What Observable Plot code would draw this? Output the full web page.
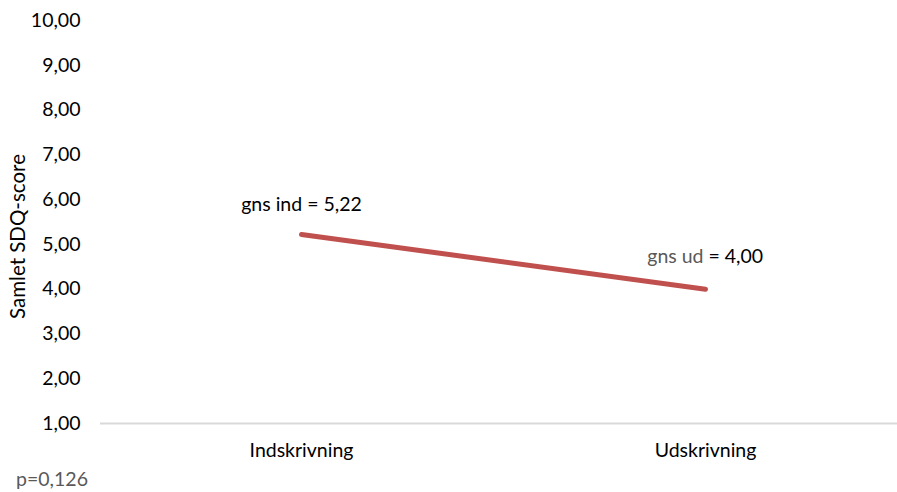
<!DOCTYPE html>
<html>
<head>
<meta charset="utf-8">
<script src="https://cdn.jsdelivr.net/npm/d3@7"></script>
<script src="https://cdn.jsdelivr.net/npm/@observablehq/plot@0.6"></script>
<style>
  html, body { margin: 0; padding: 0; background: #fff; }
  #chart svg { display: block; }
</style>
</head>
<body>
<div id="chart"></div>
<script>
const categories = ["Indskrivning", "Udskrivning"];
const values = [5.22, 4.00];
const labelPrefix = ["gns ind", "gns ud"];
const labelValue = ["= 5,22", "= 4,00"];
const yTicks = [1, 2, 3, 4, 5, 6, 7, 8, 9, 10];
const yTitle = "Samlet SDQ-score";
const pNote = "p=0,126";

const data = categories.map((c, i) => ({cat: c, v: values[i], pre: labelPrefix[i], val: labelValue[i]}));
const fmt = d => d.toFixed(2).replace(".", ",");
const FONT = "Lato, 'Open Sans', sans-serif";
const FS = 19.5;

const chart = Plot.plot({
  width: 897,
  height: 492,
  marginLeft: 100,
  marginRight: 0,
  marginTop: 20,
  marginBottom: 69,
  style: {fontFamily: FONT, fontSize: FS + "px", color: "#000", background: "#fff"},
  x: {type: "point", domain: categories, range: [301, 705], padding: 0, label: null},
  y: {domain: [1, 10], label: null},
  marks: [
    Plot.ruleY([1], {stroke: "#d9d9d9", strokeWidth: 2}),
    Plot.axisY({ticks: yTicks, tickFormat: fmt, tickSize: 0, tickPadding: 20, label: null, fontSize: FS}),
    Plot.axisX({tickSize: 0, tickPadding: 20, label: null, fontSize: FS}),
    Plot.line(data, {x: "cat", y: "v", stroke: "#C0504D", strokeWidth: 5, strokeLinecap: "round"}),
    Plot.text([data[0]], {x: "cat", y: "v", text: d => d.pre + " " + d.val, dy: -30, fill: "#000", fontSize: FS}),
    Plot.text([data[1]], {x: "cat", y: "v", text: "pre", textAnchor: "end", dx: -2, dy: -32, fill: "#595959", fontSize: FS}),
    Plot.text([data[1]], {x: "cat", y: "v", text: "val", textAnchor: "start", dx: 3, dy: -32, fill: "#000", fontSize: FS}),
    Plot.text([yTitle], {frameAnchor: "left", textAnchor: "middle", rotate: -90, dx: -82, dy: 14.5, fill: "#000", fontSize: 20.5}),
    Plot.text([pNote], {frameAnchor: "bottom-left", textAnchor: "middle", dx: -48.5, dy: 62, fill: "#595959", fontSize: FS})
  ]
});
document.getElementById("chart").appendChild(chart);
</script>
</body>
</html>
